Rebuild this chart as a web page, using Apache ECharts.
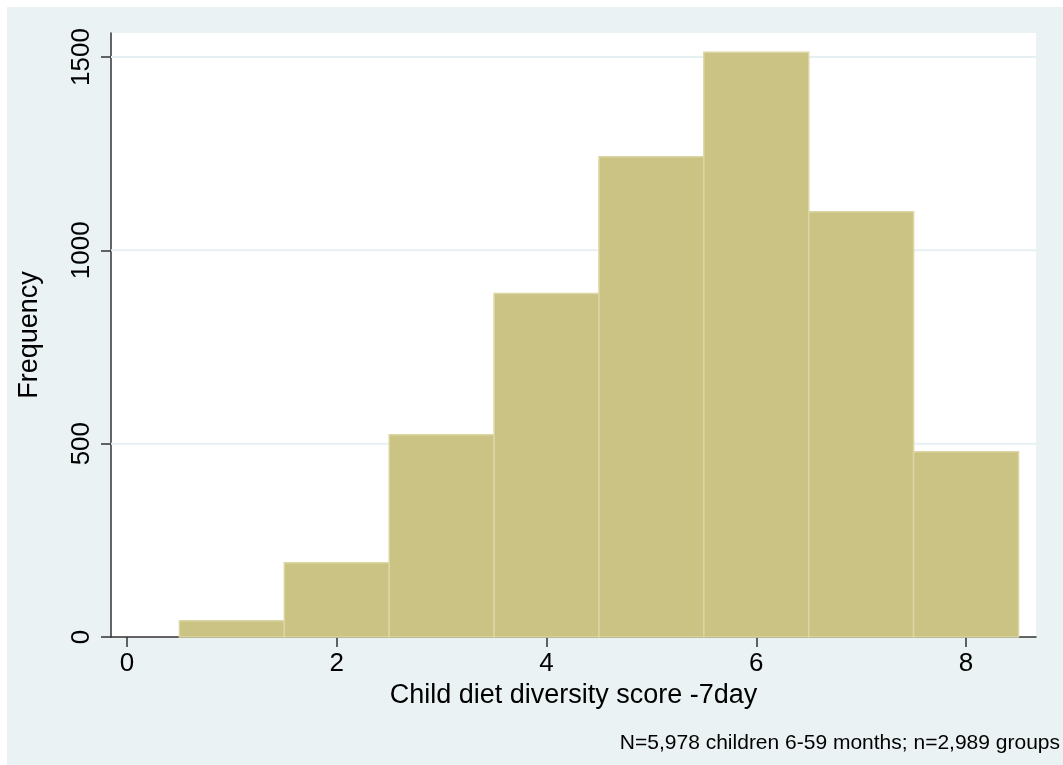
<!DOCTYPE html>
<html><head><meta charset="utf-8">
<script src="https://cdn.jsdelivr.net/npm/echarts@6/dist/echarts.min.js"></script>
<style>
html,body{margin:0;padding:0;background:#fff;}
#bg{position:absolute;left:7px;top:7px;width:1056px;height:758px;background:#EAF2F3;}
#chart{position:absolute;left:0;top:0;width:1063px;height:765px;}
</style></head><body>
<div id="bg"></div><div id="chart"></div>
<script>
// Data
const binCenters = [1, 2, 3, 4, 5, 6, 7, 8];
const frequencies = [42, 192, 523, 888, 1242, 1512, 1100, 479];
const binWidth = 1;
const xTickValues = [0, 2, 4, 6, 8];
const yTickValues = [0, 500, 1000, 1500];
const xTitle = 'Child diet diversity score -7day';
const yTitle = 'Frequency';
const noteText = 'N=5,978 children 6-59 months; n=2,989 groups';

const X_MIN = -0.1526, X_MAX = 8.667, Y_MIN = 0, Y_MAX = 1562;
const FONT = 'Liberation Sans';
const chart = echarts.init(document.getElementById('chart'), null, {renderer: 'canvas'});

const barData = binCenters.map((c, i) => [c, frequencies[i]]);
const gridData = yTickValues.filter(v => v > 0).map(v => [0, v]);

chart.setOption({
  backgroundColor: 'transparent',
  animation: false,
  grid: {left: 111, top: 33, right: 27, bottom: 128, show: true, backgroundColor: '#ffffff', borderWidth: 0},
  xAxis: {
    type: 'value', min: X_MIN, max: X_MAX,
    name: xTitle, nameLocation: 'middle', nameGap: 44,
    nameTextStyle: {fontFamily: FONT, fontSize: 27, color: '#000'},
    axisLine: {show: true, onZero: false, lineStyle: {color: '#333', width: 1.5}},
    axisTick: {show: true, length: 10, customValues: xTickValues, lineStyle: {color: '#333', width: 1.5}},
    axisLabel: {customValues: xTickValues, fontFamily: FONT, fontSize: 26, color: '#000', margin: 14,
                formatter: v => String(v)},
    splitLine: {show: false}
  },
  yAxis: {
    type: 'value', min: Y_MIN, max: Y_MAX,
    name: yTitle, nameLocation: 'middle', nameGap: 68, nameRotate: 90,
    nameTextStyle: {fontFamily: FONT, fontSize: 27, color: '#000'},
    axisLine: {show: true, onZero: false, lineStyle: {color: '#333', width: 1.5}},
    axisTick: {show: true, length: 10, customValues: yTickValues, lineStyle: {color: '#333', width: 1.5}},
    axisLabel: {customValues: yTickValues, rotate: 90, fontFamily: FONT, fontSize: 26, color: '#000', margin: 16,
                formatter: v => String(v)},
    splitLine: {show: false}
  },
  series: [
    {
      type: 'custom', z: 1, silent: true,
      data: gridData,
      encode: {x: 0, y: 1},
      renderItem: function (params, api) {
        const v = api.value(1);
        const a = api.coord([X_MIN, v]);
        const b = api.coord([X_MAX, v]);
        return {type: 'line', shape: {x1: a[0], y1: a[1], x2: b[0], y2: b[1]},
                style: {stroke: '#E6EFF1', lineWidth: 2}};
      }
    },
    {
      type: 'custom', z: 2,
      data: barData,
      encode: {x: 0, y: 1},
      renderItem: function (params, api) {
        const c = api.value(0), f = api.value(1);
        const p0 = api.coord([c - binWidth / 2, f]);
        const p1 = api.coord([c + binWidth / 2, 0]);
        return {type: 'rect',
                shape: {x: p0[0], y: p0[1], width: p1[0] - p0[0], height: p1[1] - p0[1]},
                style: {fill: '#CBC383', stroke: '#DCD6A4', lineWidth: 1.5}};
      }
    }
  ],
  graphic: [
    {type: 'text', right: 3, top: 733,
     style: {text: noteText, font: '21px "Liberation Sans"', fill: '#000'}}
  ]
});
</script>
</body></html>
